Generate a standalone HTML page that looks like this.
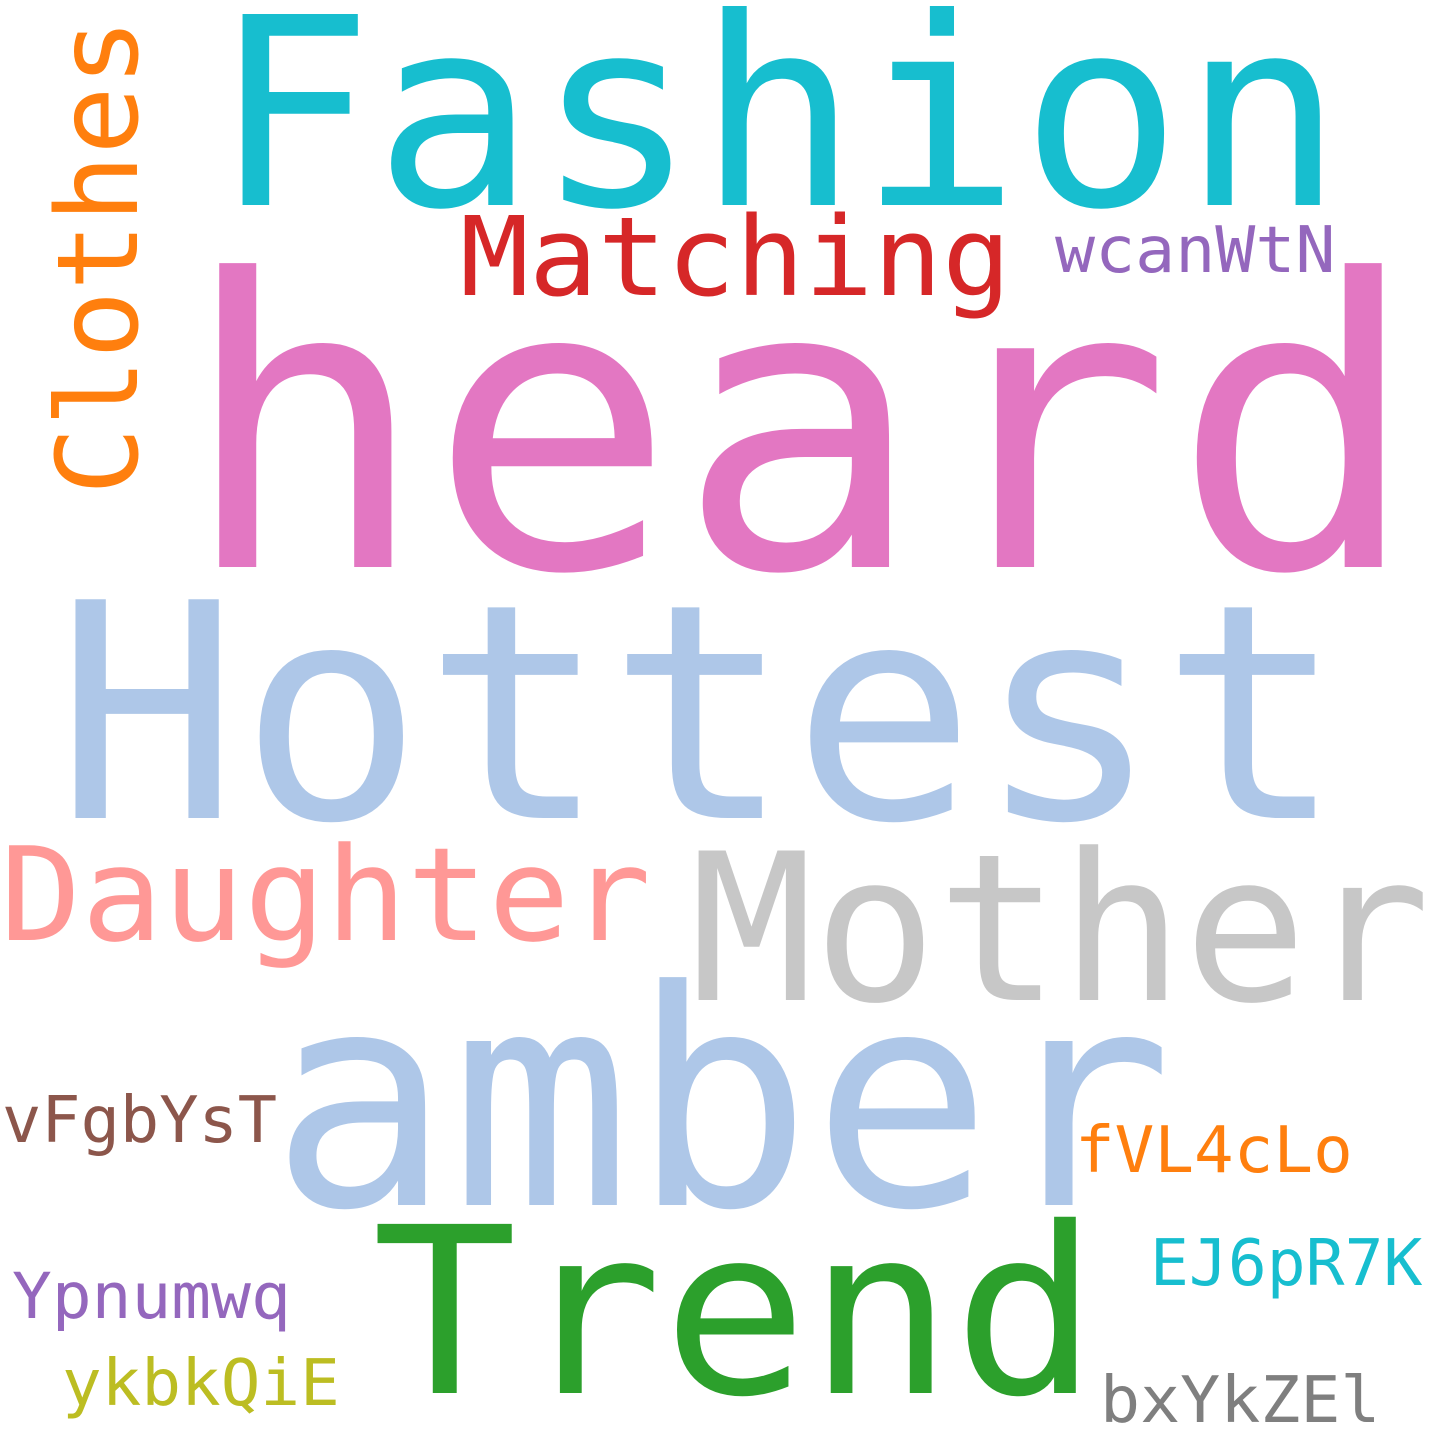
<!DOCTYPE html>
<html><head><meta charset="utf-8"><style>
html,body{margin:0;padding:0;background:#fff;}
svg{display:block;}
text{font-family:"DejaVu Sans Mono","Liberation Mono",monospace;}
</style></head><body>
<svg id="cloud" width="1440" height="1440" viewBox="0 0 1440 1440">
<rect width="1440" height="1440" fill="#fff"/>
</svg>
<script>
const words = ["Fashion","heard","Matching","wcanWtN","Clothes","Hottest","Daughter","Mother","amber","vFgbYsT","fVL4cLo","Trend","EJ6pR7K","Ypnumwq","ykbkQiE","bxYkZEl"];
const weights = [262,400,110,64,112,300,130,205,300,64,64,232,64,63,64,64];
const colors = ["#17becf","#e377c2","#d62728","#9467bd","#ff7f0e","#aec7e8","#ff9896","#c7c7c7","#aec7e8","#8c564b","#ff7f0e","#2ca02c","#17becf","#9467bd","#bcbd22","#7f7f7f"];
const anchorX = [212,180,460,1055,137,55,0,690,270,2,1075,372,1150,12,62,1100];
const anchorY = [205,567,295,272,495,818,940,1000,1205,1142,1172,1393,1285,1318,1405,1422];
const rotated = [0,0,0,0,1,0,0,0,0,0,0,0,0,0,0,0];
const stretch = [1.025,1.03,1.04,1.04,1.01,1.02,1.04,1.0,1.0,1.02,1.03,1.04,1.01,1.05,1.03,1.04];
const svg = document.getElementById('cloud');
const NS = 'http://www.w3.org/2000/svg';
words.forEach((w,i)=>{
  const t = document.createElementNS(NS,'text');
  
  
  t.setAttribute('font-size', weights[i]);
  t.setAttribute('fill', colors[i]);
  t.setAttribute('textLength', (0.602 * weights[i] * w.length * stretch[i]).toFixed(1));
  t.setAttribute('lengthAdjust', 'spacingAndGlyphs');
  if (rotated[i]) {
    t.setAttribute('transform', 'translate(' + anchorX[i] + ',' + anchorY[i] + ') rotate(-90)');
  } else {
    t.setAttribute('x', anchorX[i]);
    t.setAttribute('y', anchorY[i]);
  }
  t.textContent = w;
  svg.appendChild(t);
});
</script>
</body></html>
